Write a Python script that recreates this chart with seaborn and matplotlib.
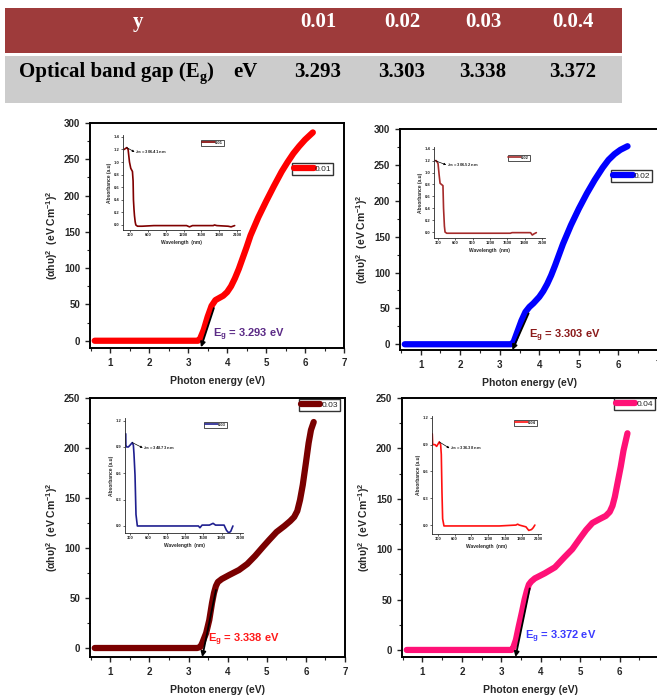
import numpy as np
import pandas as pd
import matplotlib
matplotlib.use("Agg")
import matplotlib.pyplot as plt
import seaborn as sns
from matplotlib.patches import Rectangle
from matplotlib.ticker import AutoMinorLocator, MultipleLocator

# ---------------- data ----------------
table_header = ["0.01", "0.02", "0.03", "0.0.4"]
table_eg = ["3.293", "3.303", "3.338", "3.372"]

samples = ["0.01", "0.02", "0.03", "0.04"]
eg_values = [3.293, 3.303, 3.338, 3.372]

E1 = [0.6, 1.0, 2.0, 3.0, 3.25, 3.3, 3.4, 3.5, 3.6, 3.7, 3.8, 3.9, 4.0, 4.1, 4.2, 4.3, 4.4, 4.5, 4.6, 4.8, 5.0, 5.2, 5.4, 5.55, 5.7, 5.85, 6.0, 6.1, 6.2]
V1 = [0, 0, 0, 0, 0, 2, 15, 33, 48, 56, 59, 62, 67, 75, 86, 99, 114, 129, 145, 170, 192, 213, 233, 246, 258, 268, 277, 282, 287]

E2 = [0.6, 1.0, 2.0, 3.0, 3.28, 3.35, 3.45, 3.55, 3.65, 3.75, 3.85, 4.0, 4.1, 4.2, 4.3, 4.4, 4.5, 4.6, 4.8, 5.0, 5.2, 5.4, 5.6, 5.75, 5.9, 6.05, 6.23]
V2 = [0, 0, 0, 0, 0, 3, 18, 33, 45, 52, 57, 66, 74, 84, 96, 110, 125, 140, 166, 189, 210, 229, 246, 257, 265, 271, 276]

E3 = [0.6, 1.0, 2.0, 3.0, 3.22, 3.3, 3.35, 3.45, 3.53, 3.6, 3.65, 3.7, 3.75, 3.85, 4.04, 4.29, 4.5, 4.7, 4.9, 5.06, 5.25, 5.45, 5.6, 5.7, 5.78, 5.85, 5.92, 6.0, 6.07, 6.13, 6.2]
V3 = [0, 0, 0, 0, 0, 1, 5, 15, 28, 45, 55, 62, 66, 69, 73, 78, 84, 92, 101, 108, 116, 122, 127, 131, 137, 148, 163, 185, 205, 218, 226]

E4 = [0.6, 1.0, 2.0, 3.0, 3.26, 3.3, 3.37, 3.44, 3.52, 3.59, 3.65, 3.7, 3.76, 3.85, 4.1, 4.36, 4.6, 4.8, 5.0, 5.15, 5.31, 5.5, 5.65, 5.75, 5.82, 5.88, 5.95, 6.03, 6.1, 6.2]
V4 = [0, 0, 0, 0, 0, 2, 10, 23, 37, 50, 59, 65, 68, 71, 76, 82, 92, 100, 111, 119, 126, 130, 133, 137, 143, 152, 166, 182, 198, 215]

# tangent lines (top point, bottom point)
tan_top_x = [3.66, 3.73, 3.70, 3.72]
tan_top_y = [45, 43, 58, 61]
tan_bot_x = [3.33, 3.32, 3.35, 3.36]
tan_bot_y = [-9, -8, -9, -7]

# inset absorbance spectra
nm1 = [199, 244, 266, 289, 311, 339, 350, 356, 365, 373, 385, 396, 424, 500, 700, 1000, 1250, 1300, 1350, 1500, 1700, 1720, 1760, 1950, 2000, 2030, 2060]
A1 = [1.2, 1.23, 1.2, 1.0, 0.9, 0.85, 0.7, 0.4, 0.25, 0.15, 0.05, 0.0, -0.02, -0.02, -0.01, -0.01, -0.01, -0.03, -0.01, -0.01, -0.01, 0.0, -0.01, -0.02, -0.03, -0.02, -0.01]

nm2 = [248, 270, 300, 320, 335, 360, 385, 395, 410, 421, 450, 700, 1000, 1300, 1550, 1580, 1800, 1900, 1930, 1960, 2000]
A2 = [1.2, 1.2, 1.15, 0.95, 0.82, 0.8, 0.78, 0.4, 0.1, 0.0, -0.02, -0.02, -0.02, -0.02, -0.02, -0.01, -0.01, -0.01, -0.05, -0.03, -0.01]

nm3 = [230, 232, 246, 273, 300, 338, 355, 365, 382, 398, 420, 500, 800, 1200, 1420, 1445, 1480, 1600, 1660, 1700, 1840, 1880, 1918, 1950, 1985]
A3 = [1.05, 0.92, 0.9, 0.9, 0.92, 0.95, 0.92, 0.82, 0.58, 0.13, 0.0, 0.0, 0.0, 0.0, 0.0, -0.02, 0.01, 0.01, 0.03, 0.01, 0.01, -0.05, -0.08, -0.06, 0.0]

nm4 = [198, 205, 246, 276, 324, 348, 360, 372, 384, 408, 500, 900, 1400, 1700, 1730, 1760, 1880, 1930, 1980, 2010, 2040]
A4 = [1.02, 0.9, 0.9, 0.88, 0.93, 0.9, 0.79, 0.37, 0.07, -0.01, -0.01, -0.01, -0.01, 0.0, 0.01, 0.0, -0.02, -0.06, -0.05, -0.03, 0.0]

peak_nm = [244, 250, 338, 324]
peak_abs = [1.23, 1.2, 0.95, 0.93]
lambda_labels = ["306.41", "306.52", "348.73", "336.38"]
inset_legend = ["0.01", "0.02", "0.03", "0.04"]

wavelength_ticks = [300, 600, 900, 1200, 1500, 1800, 2100]

# ---------------- style ----------------
sns.set_style("ticks")
plt.rcParams['font.family'] = ['Liberation Sans', 'DejaVu Sans']
plt.rcParams['font.weight'] = 'bold'
plt.rcParams['axes.labelweight'] = 'bold'
plt.rcParams['mathtext.fontset'] = 'custom'
plt.rcParams['mathtext.rm'] = 'Liberation Sans:bold'
plt.rcParams['mathtext.it'] = 'Liberation Sans:italic:bold'
plt.rcParams['mathtext.bf'] = 'Liberation Sans:bold'

W, H = 657, 697
fig = plt.figure(figsize=(W / 100, H / 100), dpi=100)
fig.patch.set_facecolor('white')


def box(l, t, r, b):
    return [l / W, 1 - b / H, (r - l) / W, (b - t) / H]


# ---------------- table ----------------
fig.add_artist(Rectangle((5 / W, 1 - 53 / H), 617 / W, 45 / H, transform=fig.transFigure,
                         facecolor='#9e3b3b', edgecolor='none'))
fig.add_artist(Rectangle((5 / W, 1 - 103 / H), 617 / W, 47 / H, transform=fig.transFigure,
                         facecolor='#cccccc', edgecolor='none'))
serif = ['Liberation Serif', 'DejaVu Serif']
col_x = [318, 402, 483, 573]
fig.text(138 / W, 1 - 22 / H, "y", color='white', family=serif, weight='bold', fontsize=15,
         ha='center', va='center')
for cx, h, e in zip(col_x, table_header, table_eg):
    fig.text(cx / W, 1 - 22 / H, h, color='white', family=serif, weight='bold', fontsize=15,
             ha='center', va='center')
    fig.text(cx / W, 1 - 72 / H, e, color='black', family=serif, weight='bold', fontsize=15,
             ha='center', va='center')
renderer = fig.canvas.get_renderer()
t1 = fig.text(19 / W, 1 - 72 / H, "Optical band gap (E", color='black', family=serif,
              weight='bold', fontsize=15, ha='left', va='center')
bb = t1.get_window_extent(renderer)
t2 = fig.text(bb.x1 / W, 1 - 77 / H, "g", color='black', family=serif, weight='bold',
              fontsize=10, ha='left', va='center')
bb2 = t2.get_window_extent(renderer)
fig.text(bb2.x1 / W, 1 - 72 / H, ")", color='black', family=serif, weight='bold',
         fontsize=15, ha='left', va='center')
fig.text(233 / W, 1 - 72 / H, "eV", color='black', family=serif, weight='bold',
         fontsize=15, ha='left', va='center')

# ---------------- main plots ----------------
main_boxes = [(90, 123, 344, 348), (400, 129, 658, 350), (90, 398, 345, 657), (402, 398, 659, 657)]
ylims = [(-10, 300), (-8, 300), (-9, 250), (-7, 250)]
colors = ['#ff0000', '#0000ff', '#7a0000', '#ff1177']
Es = [E1, E2, E3, E4]
Vs = [V1, V2, V3, V4]
eg_pos = [(3.64, 8), (3.73, 12), (3.50, 8), (3.59, 13)]
eg_colors = ['#5b2a86', '#8b1a1a', '#ff1a1a', '#3b3bff']
leg_anchor = [(0.957, 0.822), (0.977, 0.814), (0.98, 0.996), (0.984, 1.0)]

inset_boxes = [(123, 135, 240, 230), (434, 147, 545, 238), (125, 418, 243, 533), (432, 416, 541, 534)]
inset_nm = [nm1, nm2, nm3, nm4]
inset_A = [A1, A2, A3, A4]
inset_colors = ['#800000', '#a52a2a', '#1f1f8f', '#ff1010']
inset_xlims = [(180, 2150), (230, 2150), (218, 2150), (193, 2150)]
inset_ylims = [(-0.08, 1.43), (-0.1, 1.43), (-0.08, 1.23), (-0.1, 1.22)]
inset_ystep = [0.2, 0.2, 0.3, 0.3]
inset_leg_anchor = [(0.863, 0.947), (0.865, 0.912), (0.864, 0.965), (0.963, 0.966)]
ann_text_pos = [(384, 1.16), (451, 1.13), (518, 0.89), (516, 0.86)]

for i in range(4):
    ax = fig.add_axes(box(*main_boxes[i]))
    df = pd.DataFrame({"E": Es[i], "v": Vs[i]})
    sns.lineplot(data=df, x="E", y="v", ax=ax, color=colors[i], linewidth=4.5,
                 label=samples[i], solid_capstyle='round', solid_joinstyle='round')
    ax.set_xlim(0.48, 7.0)
    ax.set_ylim(*ylims[i])
    ax.xaxis.set_major_locator(MultipleLocator(1))
    ax.yaxis.set_major_locator(MultipleLocator(50))
    ax.xaxis.set_minor_locator(AutoMinorLocator(2))
    ax.yaxis.set_minor_locator(AutoMinorLocator(2))
    ax.tick_params(which='major', direction='out', length=3.5, width=1.0, labelsize=7)
    ax.tick_params(which='minor', direction='out', length=2, width=0.8)
    for lab in ax.get_xticklabels() + ax.get_yticklabels():
        lab.set_fontweight('bold')
    for s in ax.spines.values():
        s.set_linewidth(1.4)
        s.set_color('black')
    ax.set_xlabel("Photon energy (eV)", fontsize=7.5, fontweight='bold', labelpad=6)
    ax.set_ylabel("(αhυ)$^2$  (eV Cm$^{-1}$)$^2$", fontsize=7.5, fontweight='bold', labelpad=3)
    ax.annotate("", xy=(tan_bot_x[i], tan_bot_y[i]), xytext=(tan_top_x[i], tan_top_y[i]),
                arrowprops=dict(arrowstyle='-|>', color='black', lw=1.3, mutation_scale=7,
                                shrinkA=0, shrinkB=0))
    ax.text(eg_pos[i][0], eg_pos[i][1], "E$_\\mathrm{g}$ = %.3f eV" % eg_values[i],
            color=eg_colors[i], fontsize=8, fontweight='bold', ha='left', va='center')
    leg = ax.legend(loc='upper right', bbox_to_anchor=leg_anchor[i], frameon=True, fancybox=False,
                    edgecolor='black', fontsize=6, handlelength=2.3, borderpad=0.25,
                    handletextpad=0.1, borderaxespad=0)
    leg.get_frame().set_linewidth(1.0)
    for t in leg.get_texts():
        t.set_fontweight('normal')

    # inset
    ia = fig.add_axes(box(*inset_boxes[i]))
    dfi = pd.DataFrame({"nm": inset_nm[i], "A": inset_A[i]})
    sns.lineplot(data=dfi, x="nm", y="A", ax=ia, color=inset_colors[i], linewidth=1.2,
                 label=inset_legend[i], sort=False)
    ia.set_xlim(*inset_xlims[i])
    ia.set_ylim(*inset_ylims[i])
    ia.set_xticks(wavelength_ticks)
    ia.yaxis.set_major_locator(MultipleLocator(inset_ystep[i]))
    ia.yaxis.set_major_formatter(matplotlib.ticker.FormatStrFormatter('%.1f'))
    ia.tick_params(direction='out', length=1.5, width=0.5, labelsize=3, pad=1)
    for s in ['top', 'right']:
        ia.spines[s].set_visible(False)
    for s in ['left', 'bottom']:
        ia.spines[s].set_linewidth(0.6)
    ia.set_facecolor('none')
    ia.set_xlabel("Wavelength  (nm)", fontsize=3.5, labelpad=1.5)
    ia.set_ylabel("Absorbance (a.u)", fontsize=3.5, labelpad=1.5)
    ia.annotate("$\\lambda_\\mathrm{m}$ = %s nm" % lambda_labels[i], xy=ann_text_pos[i],
                xytext=ann_text_pos[i], fontsize=3, va='center', ha='left')
    ia.annotate("", xy=(ann_text_pos[i][0] - 10, ann_text_pos[i][1]),
                xytext=(peak_nm[i], peak_abs[i]),
                arrowprops=dict(arrowstyle='-|>', color='black', lw=0.5, mutation_scale=3,
                                shrinkA=0, shrinkB=0))
    il = ia.legend(loc='upper right', bbox_to_anchor=inset_leg_anchor[i], frameon=True,
                   fancybox=False, edgecolor='black', fontsize=3, handlelength=3.0,
                   borderpad=0.2, handletextpad=0.1, borderaxespad=0)
    il.get_frame().set_linewidth(0.6)
    for ln in il.get_lines():
        ln.set_linewidth(1.2)

fig.savefig("out.png", dpi=100)
